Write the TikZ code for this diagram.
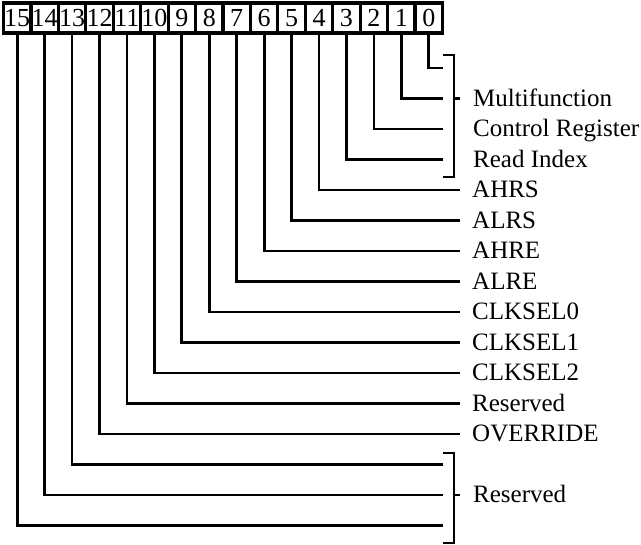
\documentclass[tikz,border=0pt]{standalone}
\usepackage{fontspec}
\setmainfont{Liberation Serif}
\usetikzlibrary{positioning}
\begin{document}
\begin{tikzpicture}
[x=1pt,y=-1pt,
  bitdecorate/.style={shape=rectangle,draw,line width=3.2pt,minimum width=27.44pt,%
    minimum height=30pt,inner sep=0pt,font=\fontsize{26}{26}\selectfont},
  labeldecorate/.style={anchor=west,inner sep=0pt,text height=16pt,text depth=0pt,%
    font=\fontsize{25}{30}\selectfont},
  linedecorate/.style={-,line width=2.8pt,to path={|- (\tikztotarget) \tikztonodes}},
  bracedecorate/.style={-,line width=2.8pt}]
\useasboundingbox (0,0) rectangle (641,545);
%%% register bits
% boxes
\node (b15) at (17.2,18) [bitdecorate] {15};
\node (b14) at (44.64,18) [bitdecorate] {14};
\node (b13) at (72.08,18) [bitdecorate] {13};
\node (b12) at (99.52,18) [bitdecorate] {12};
\node (b11) at (126.96,18) [bitdecorate] {11};
\node (b10) at (154.4,18) [bitdecorate] {10};
\node (b9) at (181.84,18) [bitdecorate] {9};
\node (b8) at (209.28,18) [bitdecorate] {8};
\node (b7) at (236.72,18) [bitdecorate] {7};
\node (b6) at (264.16,18) [bitdecorate] {6};
\node (b5) at (291.6,18) [bitdecorate] {5};
\node (b4) at (319.04,18) [bitdecorate] {4};
\node (b3) at (346.48,18) [bitdecorate] {3};
\node (b2) at (373.92,18) [bitdecorate] {2};
\node (b1) at (401.36,18) [bitdecorate] {1};
\node (b0) at (428.8,18) [bitdecorate] {0};
% line ends
\coordinate (e0) at (443,68);
\coordinate (e1) at (443,98.5);
\coordinate (e2) at (443,129);
\coordinate (e3) at (443,159.5);
\coordinate (e4) at (460,190);
\coordinate (e5) at (460,220.5);
\coordinate (e6) at (460,251);
\coordinate (e7) at (460,281.5);
\coordinate (e8) at (460,312);
\coordinate (e9) at (460,342.5);
\coordinate (e10) at (460,373);
\coordinate (e11) at (460,403.5);
\coordinate (e12) at (460,434);
\coordinate (e13) at (443,464.5);
\coordinate (e14) at (443,495);
\coordinate (e15) at (443,525.5);
% lines
\path
(b0.south) edge[linedecorate] (e0)
(b1.south) edge[linedecorate] (e1)
(b2.south) edge[linedecorate] (e2)
(b3.south) edge[linedecorate] (e3)
(b4.south) edge[linedecorate] (e4)
(b5.south) edge[linedecorate] (e5)
(b6.south) edge[linedecorate] (e6)
(b7.south) edge[linedecorate] (e7)
(b8.south) edge[linedecorate] (e8)
(b9.south) edge[linedecorate] (e9)
(b10.south) edge[linedecorate] (e10)
(b11.south) edge[linedecorate] (e11)
(b12.south) edge[linedecorate] (e12)
(b13.south) edge[linedecorate] (e13)
(b14.south) edge[linedecorate] (e14)
(b15.south) edge[linedecorate] (e15);
%
%%% brackets
% bits 0 to 3
\coordinate (ta) at (443,55);
\coordinate (tb) at (443,177);
\coordinate (tk) at (454,98.5);
\coordinate (tm) at (460,98.5);
\draw[bracedecorate] (ta) -| (tk) |- (tb);
\draw[bracedecorate] (tk) -- (tm);
% bits 13 to 15
\coordinate (ua) at (443,453);
\coordinate (ub) at (443,543);
\coordinate (uk) at (454,495);
\coordinate (um) at (460,495);
\draw[bracedecorate] (ua) -| (uk) |- (ub);
\draw[bracedecorate] (uk) -- (um);
%
%%% labels
\node (l1) [labeldecorate,right=13pt of tm] {Multifunction};
\node (l2) [labeldecorate,right=30pt of e2] {Control Register};
\node (l3) [labeldecorate,right=30pt of e3] {Read Index};
\node (l4) [labeldecorate,right=12pt of e4] {AHRS};
\node (l5) [labeldecorate,right=12pt of e5] {ALRS};
\node (l6) [labeldecorate,right=12pt of e6] {AHRE};
\node (l7) [labeldecorate,right=12pt of e7] {ALRE};
\node (l8) [labeldecorate,right=12pt of e8] {CLKSEL0};
\node (l9) [labeldecorate,right=12pt of e9] {CLKSEL1};
\node (l10) [labeldecorate,right=12pt of e10] {CLKSEL2};
\node (l11) [labeldecorate,right=12pt of e11] {Reserved};
\node (l12) [labeldecorate,right=12pt of e12] {OVERRIDE};
\node (l14) [labeldecorate,right=13pt of um] {Reserved};
\end{tikzpicture}
\end{document}
